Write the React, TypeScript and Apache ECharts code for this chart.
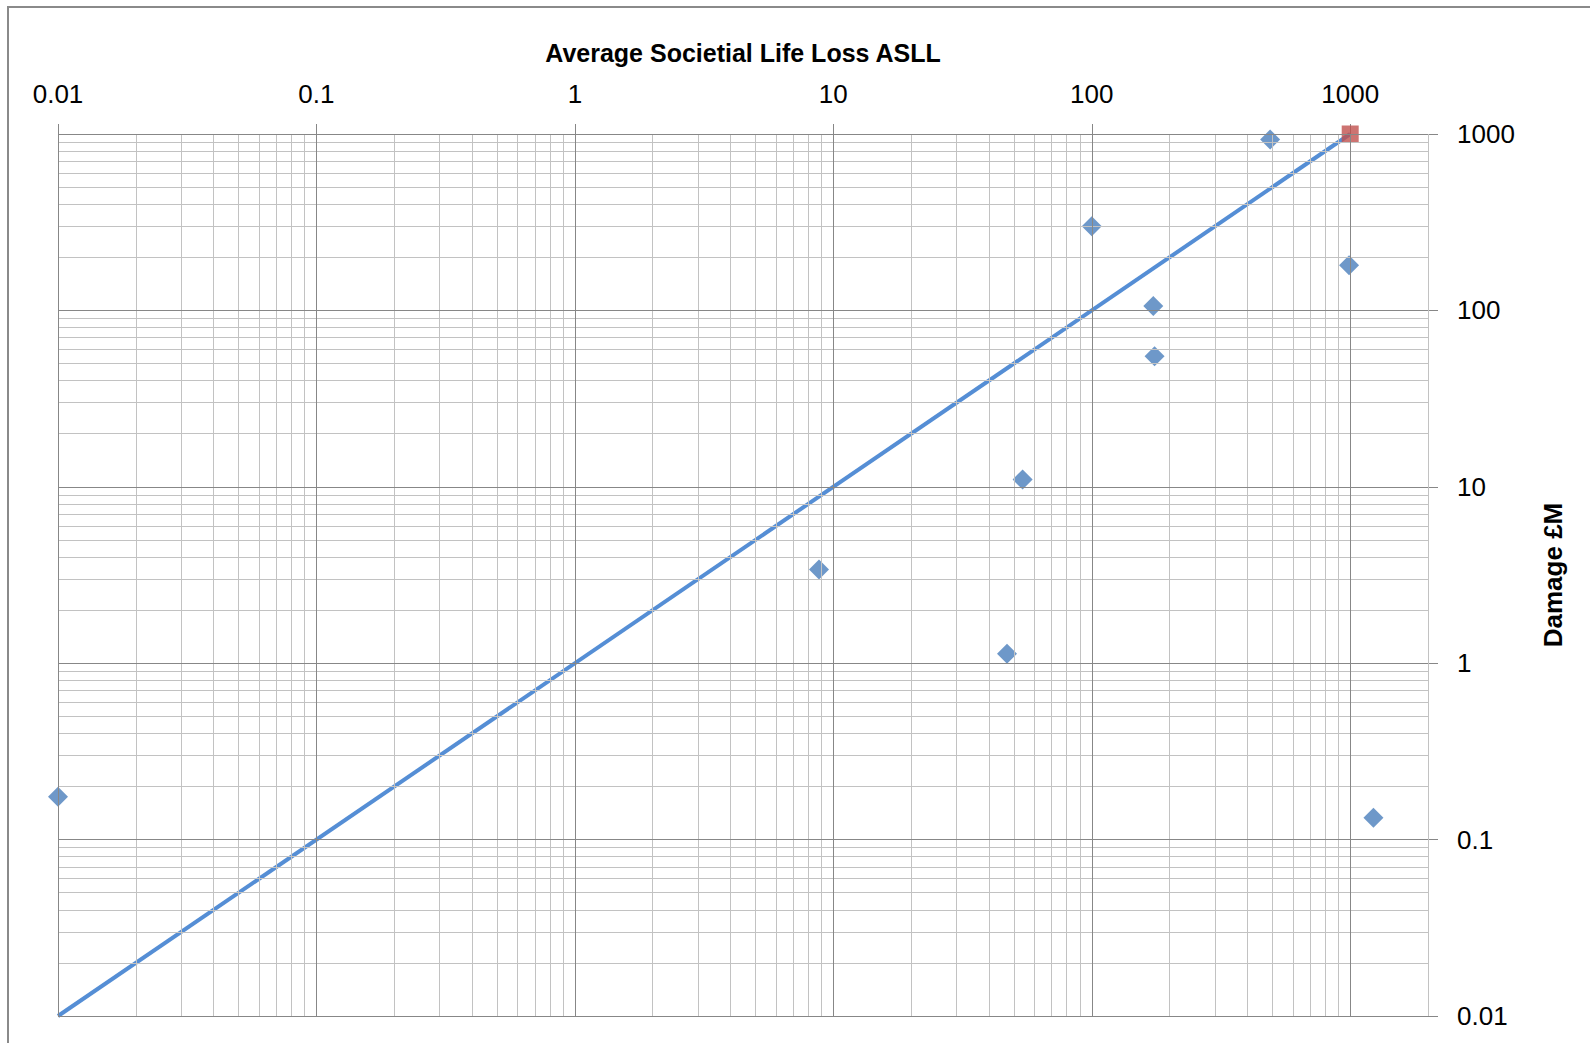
import React, { useEffect, useRef } from 'react';
import * as echarts from 'echarts';

// Axis structure
const decades = [0.01, 0.1, 1, 10, 100, 1000];
const minorMultiples = [2, 3, 4, 5, 6, 7, 8, 9];
const xTickLabels = ['0.01', '0.1', '1', '10', '100', '1000'];
const yTickLabels = ['0.01', '0.1', '1', '10', '100', '1000'];
const xMin = 0.01;
const xMax = 2000;
const yMin = 0.01;
const yMax = 1000;

// Data
const asllValues = [0.01, 8.8, 47, 54, 100, 173, 175, 490, 990, 1230];
const damageValues = [0.175, 3.4, 1.13, 11, 300, 106, 55, 930, 180, 0.133];
const refLineX = [0.01, 1000];
const refLineY = [0.01, 1000];
const highlightX = [1000];
const highlightY = [1000];

const FONT = '"Liberation Sans", Arial, sans-serif';
const MAJOR = '#878787';
const MINOR = '#c2c2c2';

const clean = (v: number) => Number(v.toPrecision(6));

export default function App() {
  const ref = useRef<HTMLDivElement>(null);

  useEffect(() => {
    if (!ref.current) return;
    const chart = echarts.init(ref.current, undefined, { renderer: 'svg' });

    const minorX = decades
      .flatMap((d) => minorMultiples.map((m) => clean(d * m)))
      .filter((v) => v <= xMax);
    const minorY = decades
      .flatMap((d) => minorMultiples.map((m) => clean(d * m)))
      .filter((v) => v <= yMax);
    const majorX = decades.filter((v) => v <= xMax);
    const majorY = decades.filter((v) => v <= yMax);

    const minorStyle = { color: MINOR, width: 1, type: 'solid' as const };
    const majorStyle = { color: MAJOR, width: 1, type: 'solid' as const };

    const gridLines = [
      ...minorX.map((v) => ({ xAxis: v, lineStyle: minorStyle })),
      ...minorY.map((v) => ({ yAxis: v, lineStyle: minorStyle })),
      ...majorX.map((v) => ({ xAxis: v, lineStyle: majorStyle })),
      ...majorY.map((v) => ({ yAxis: v, lineStyle: majorStyle })),
    ];

    const xFormatter = (v: number) => {
      const s = String(clean(v));
      return xTickLabels.includes(s) ? s : '';
    };
    const yFormatter = (v: number) => {
      const s = String(clean(v));
      return yTickLabels.includes(s) ? s : '';
    };

    chart.setOption({
      animation: false,
      backgroundColor: '#ffffff',
      textStyle: { fontFamily: FONT },
      grid: { left: 58, top: 134, width: 1370, height: 882, containLabel: false },
      graphic: [
        {
          type: 'rect',
          shape: { x: 8, y: 7, width: 2000, height: 2000 },
          style: { fill: 'none', stroke: '#8a8a8a', lineWidth: 2 },
          silent: true,
          z: -10,
        },
      ],
      xAxis: {
        type: 'log',
        logBase: 10,
        position: 'top',
        min: xMin,
        max: xMax,
        name: 'Average Societial Life Loss ASLL',
        nameLocation: 'middle',
        nameGap: 69,
        nameTextStyle: { fontFamily: FONT, fontSize: 25, fontWeight: 'bold', color: '#000' },
        axisLine: { show: false },
        axisTick: {
          show: true,
          inside: false,
          length: 10,
          lineStyle: { color: MAJOR, width: 1 },
          customValues: decades,
        },
        axisLabel: {
          show: true,
          margin: 27,
          fontFamily: FONT,
          fontSize: 26,
          color: '#000',
          formatter: xFormatter,
          customValues: decades,
        },
        splitLine: { show: false },
        minorTick: { show: false },
        minorSplitLine: { show: false },
      },
      yAxis: {
        type: 'log',
        logBase: 10,
        position: 'right',
        min: yMin,
        max: yMax,
        name: 'Damage £M',
        nameLocation: 'middle',
        nameRotate: 90,
        nameGap: 112,
        nameTextStyle: { fontFamily: FONT, fontSize: 26, fontWeight: 'bold', color: '#000' },
        axisLine: { show: false },
        axisTick: {
          show: true,
          inside: false,
          length: 10,
          lineStyle: { color: MAJOR, width: 1 },
          customValues: decades,
        },
        axisLabel: {
          show: true,
          margin: 29,
          fontFamily: FONT,
          fontSize: 26,
          color: '#000',
          formatter: yFormatter,
          customValues: decades,
        },
        splitLine: { show: false },
        minorTick: { show: false },
        minorSplitLine: { show: false },
      },
      series: [
        {
          name: 'grid',
          type: 'line',
          data: [],
          silent: true,
          z: 0,
          markLine: {
            silent: true,
            symbol: ['none', 'none'],
            label: { show: false },
            emphasis: { disabled: true },
            animation: false,
            data: gridLines,
          },
        },
        {
          name: 'Reference line',
          type: 'line',
          data: refLineX.map((x, i) => [x, refLineY[i]]),
          symbol: 'none',
          lineStyle: { color: '#558ED5', width: 4 },
          silent: true,
          z: 2,
        },
        {
          name: 'Dams',
          type: 'scatter',
          data: asllValues.map((x, i) => [x, damageValues[i]]),
          symbol: 'diamond',
          symbolSize: 20,
          itemStyle: { color: '#4A7EBB' },
          z: 3,
        },
        {
          name: 'Limit',
          type: 'scatter',
          data: highlightX.map((x, i) => [x, highlightY[i]]),
          symbol: 'rect',
          symbolSize: 17,
          itemStyle: { color: '#C0504D' },
          z: 4,
        },
      ],
    });

    return () => chart.dispose();
  }, []);

  return (
    <div
      ref={ref}
      style={{ position: 'absolute', left: 0, top: 0, width: 1590, height: 1043, background: '#fff' }}
    />
  );
}
